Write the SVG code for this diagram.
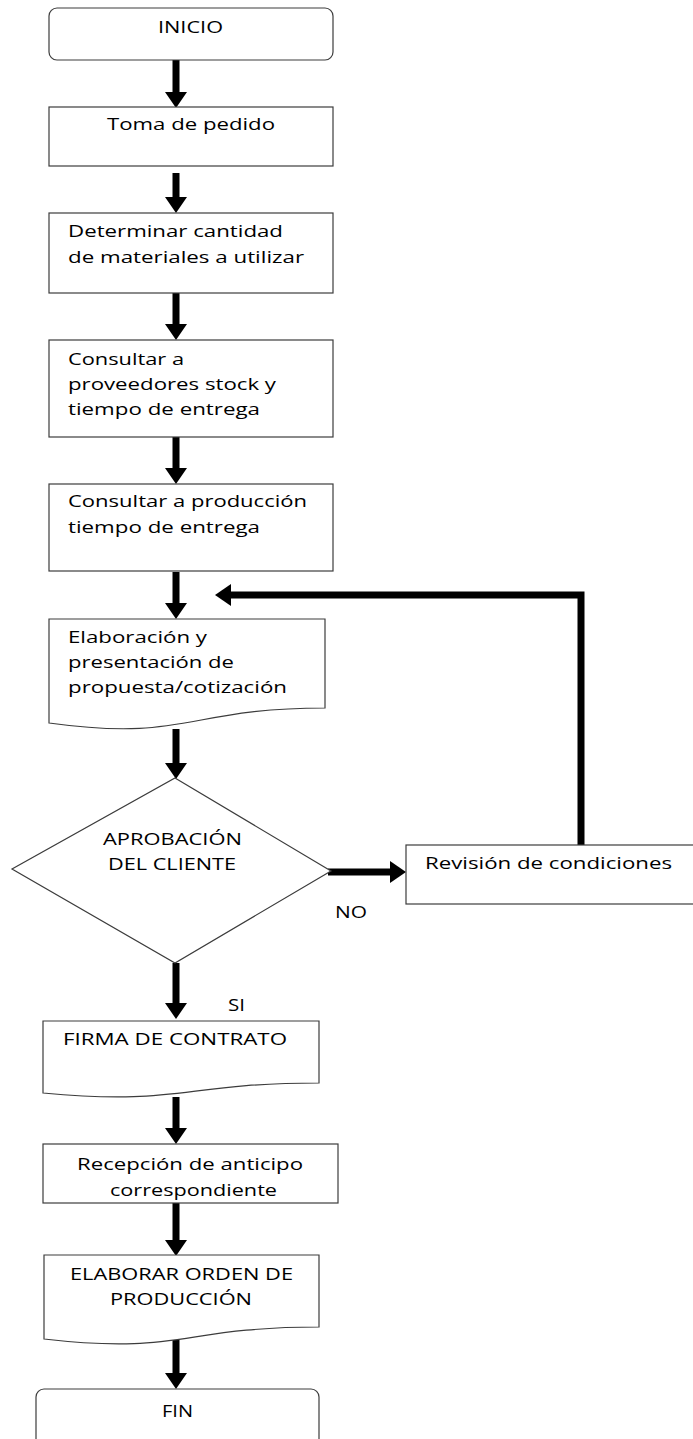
<svg xmlns="http://www.w3.org/2000/svg" width="693" height="1439" viewBox="0 0 693 1439">
<defs>
<style>
.box{fill:#fff;stroke:#3c3c3c;stroke-width:1.2}
.t{font-family:"Open Sans","Noto Sans",sans-serif;font-size:17px;fill:#000}
.c{fill:none;stroke:#000;stroke-width:7}
</style>
<marker id="ah" viewBox="0 0 16 22" refX="0" refY="11" markerWidth="16" markerHeight="22" markerUnits="userSpaceOnUse" orient="auto">
<path d="M0,0 L16,11 L0,22 Z" fill="#000"/>
</marker>
</defs>
<rect width="693" height="1439" fill="#fff"/>
<g id="connectors">
<line class="c" x1="176" y1="60" x2="176" y2="92" marker-end="url(#ah)"/>
<line class="c" x1="176" y1="173" x2="176" y2="197" marker-end="url(#ah)"/>
<line class="c" x1="176" y1="293" x2="176" y2="324" marker-end="url(#ah)"/>
<line class="c" x1="176" y1="437" x2="176" y2="468" marker-end="url(#ah)"/>
<line class="c" x1="176" y1="572" x2="176" y2="603" marker-end="url(#ah)"/>
<line class="c" x1="176" y1="729" x2="176" y2="763" marker-end="url(#ah)"/>
<line class="c" x1="176" y1="963" x2="176" y2="1003" marker-end="url(#ah)"/>
<line class="c" x1="176" y1="1097" x2="176" y2="1128" marker-end="url(#ah)"/>
<line class="c" x1="176" y1="1203" x2="176" y2="1240" marker-end="url(#ah)"/>
<line class="c" x1="176" y1="1340" x2="176" y2="1373" marker-end="url(#ah)"/>
<line class="c" x1="328" y1="872" x2="390" y2="872" stroke-width="6" marker-end="url(#ah)"/>
<polyline class="c" points="581,845 581,595 231,595" stroke-linejoin="miter" stroke-width="6.5" marker-end="url(#ah)"/>
</g>
<g id="n-inicio">
<rect class="box" x="49" y="8" width="284" height="52" rx="8"/>
<text class="t" x="158" y="33" textLength="65" lengthAdjust="spacingAndGlyphs">INICIO</text>
</g>
<g id="n-toma">
<rect class="box" x="49" y="107" width="284" height="59"/>
<text class="t" x="107" y="130" textLength="168" lengthAdjust="spacingAndGlyphs">Toma de pedido</text>
</g>
<g id="n-determinar">
<rect class="box" x="49" y="213" width="284" height="80"/>
<text class="t" x="68" y="237" textLength="215" lengthAdjust="spacingAndGlyphs">Determinar cantidad</text>
<text class="t" x="68" y="263" textLength="236" lengthAdjust="spacingAndGlyphs">de materiales a utilizar</text>
</g>
<g id="n-proveedores">
<rect class="box" x="49" y="340" width="284" height="97"/>
<text class="t" x="68" y="365" textLength="116" lengthAdjust="spacingAndGlyphs">Consultar a</text>
<text class="t" x="68" y="390" textLength="208" lengthAdjust="spacingAndGlyphs">proveedores stock y</text>
<text class="t" x="68" y="415" textLength="192" lengthAdjust="spacingAndGlyphs">tiempo de entrega</text>
</g>
<g id="n-produccion">
<rect class="box" x="49" y="484" width="284" height="87"/>
<text class="t" x="68" y="507" textLength="239" lengthAdjust="spacingAndGlyphs">Consultar a producción</text>
<text class="t" x="68" y="533" textLength="192" lengthAdjust="spacingAndGlyphs">tiempo de entrega</text>
</g>
<g id="n-elaboracion">
<path class="box" d="M49,619 H325 V708 C187,708 187,742 49,723 Z"/>
<text class="t" x="68" y="643" textLength="139" lengthAdjust="spacingAndGlyphs">Elaboración y</text>
<text class="t" x="68" y="668" textLength="166" lengthAdjust="spacingAndGlyphs">presentación de</text>
<text class="t" x="68" y="693" textLength="219" lengthAdjust="spacingAndGlyphs">propuesta/cotización</text>
</g>
<g id="n-aprobacion">
<path class="box" d="M175,778 L331,871 L175,963 L12,869 Z"/>
<text class="t" x="103" y="845" textLength="139" lengthAdjust="spacingAndGlyphs">APROBACIÓN</text>
<text class="t" x="108" y="870" textLength="128" lengthAdjust="spacingAndGlyphs">DEL CLIENTE</text>
</g>
<g id="n-revision">
<rect class="box" x="406" y="845" width="300" height="59"/>
<text class="t" x="425" y="869" textLength="247" lengthAdjust="spacingAndGlyphs">Revisión de condiciones</text>
</g>
<g id="labels">
<text class="t" x="335" y="918" textLength="32" lengthAdjust="spacingAndGlyphs">NO</text>
<text class="t" x="228" y="1011" textLength="17" lengthAdjust="spacingAndGlyphs">SI</text>
</g>
<g id="n-firma">
<path class="box" d="M43,1021 H319 V1083 C181,1083 181,1106 43,1093 Z"/>
<text class="t" x="63" y="1045" textLength="224" lengthAdjust="spacingAndGlyphs">FIRMA DE CONTRATO</text>
</g>
<g id="n-recepcion">
<rect class="box" x="43" y="1144" width="295" height="59"/>
<text class="t" x="77" y="1170" textLength="226" lengthAdjust="spacingAndGlyphs">Recepción de anticipo</text>
<text class="t" x="110" y="1196" textLength="167" lengthAdjust="spacingAndGlyphs">correspondiente</text>
</g>
<g id="n-orden">
<path class="box" d="M44,1255 H319 V1327 C181,1327 181,1355 44,1339 Z"/>
<text class="t" x="70" y="1280" textLength="223" lengthAdjust="spacingAndGlyphs">ELABORAR ORDEN DE</text>
<text class="t" x="110" y="1305" textLength="142" lengthAdjust="spacingAndGlyphs">PRODUCCIÓN</text>
</g>
<g id="n-fin">
<rect class="box" x="36" y="1389" width="283" height="80" rx="8"/>
<text class="t" x="162" y="1417" textLength="31" lengthAdjust="spacingAndGlyphs">FIN</text>
</g>
</svg>
